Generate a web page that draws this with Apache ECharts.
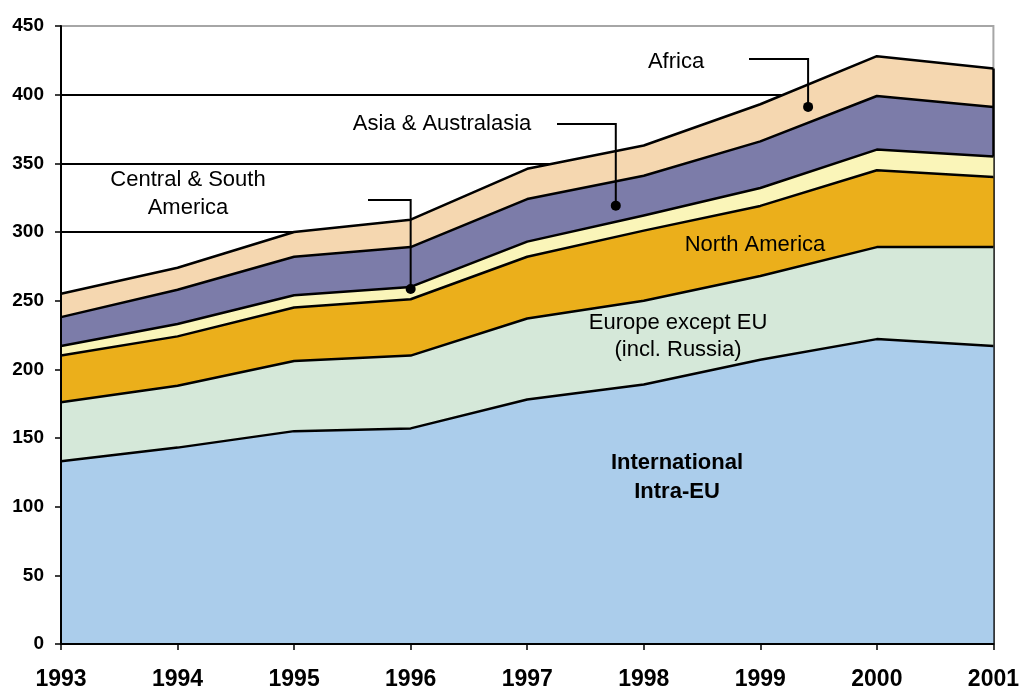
<!DOCTYPE html>
<html>
<head>
<meta charset="utf-8">
<title>Passenger traffic by destination region, 1993–2001</title>
<script src="https://cdn.jsdelivr.net/npm/echarts@6/dist/echarts.min.js"></script>
<style>
  html, body { margin: 0; padding: 0; background: #fff; }
  #chart { width: 1022px; height: 692px; }
</style>
</head>
<body>
<div id="chart"></div>
<script>
// Years on the horizontal axis
const years = ['1993', '1994', '1995', '1996', '1997', '1998', '1999', '2000', '2001'];

// Stacked layers, bottom to top
const intraEU      = [133, 143, 155, 157, 178, 189, 207, 222, 217];
const europeExEU   = [43, 45, 51, 53, 59, 61, 61, 67, 72];
const northAmerica = [34, 36, 39, 41, 45, 51, 51, 56, 51];
const centralSouth = [7, 9, 9, 9, 11, 11, 13, 15, 15];
const asiaAustral  = [21, 25, 28, 29, 31, 29, 34, 39, 36];
const africa       = [17, 16, 18, 20, 22, 22, 27, 29, 28];

// Value axis ticks
const yMin = 0, yMax = 450, yStep = 50;

const FONT = '"Liberation Sans", Arial, sans-serif';

const layers = [
  { name: 'International Intra-EU', data: intraEU, color: '#abcdeb' },
  { name: 'Europe except EU (incl. Russia)', data: europeExEU, color: '#d5e8d9' },
  { name: 'North America', data: northAmerica, color: '#ebaf1b' },
  { name: 'Central & South America', data: centralSouth, color: '#faf5b9' },
  { name: 'Asia & Australasia', data: asiaAustral, color: '#7c7ca9' },
  { name: 'Africa', data: africa, color: '#f5d7b0' }
];

// Stack total at the last year, used for the closing edge on the right
const lastIdx = years.length - 1;
const lastTotal = layers.reduce((s, l) => s + l.data[lastIdx], 0);

// Lower layers are painted later so each boundary line sits above the band over it
const series = layers.map((l, i) => {
  const s = {
    name: l.name,
    type: 'line',
    stack: 'total',
    yAxisIndex: 0,
    data: l.data,
    symbol: 'none',
    silent: true,
    lineStyle: { color: '#000', width: 2.5, join: 'round' },
    areaStyle: { color: l.color, opacity: 1 },
    z: 2 + (layers.length - i)
  };
  if (i === 0) {
    s.markLine = {
      silent: true,
      symbol: 'none',
      label: { show: false },
      lineStyle: { color: '#000', width: 2.5, type: 'solid' },
      data: [[{ coord: [years[lastIdx], 0] }, { coord: [years[lastIdx], lastTotal] }]]
    };
  }
  return s;
});

const chart = echarts.init(document.getElementById('chart'), null, { renderer: 'canvas' });

const valueScale = { type: 'value', min: yMin, max: yMax, interval: yStep };

chart.setOption({
  animation: false,
  backgroundColor: '#ffffff',
  grid: {
    left: 61, right: 27, top: 26, bottom: 48,
    show: true, borderColor: '#a6a6a6', borderWidth: 2, backgroundColor: 'transparent'
  },
  xAxis: {
    type: 'category',
    data: years,
    boundaryGap: false,
    axisLine: { lineStyle: { color: '#000', width: 2 } },
    axisTick: { show: true, length: 6, lineStyle: { color: '#000', width: 1.5 } },
    axisLabel: { color: '#000', fontFamily: FONT, fontWeight: 'bold', fontSize: 23, margin: 24 },
    splitLine: { show: false },
    z: 20
  },
  yAxis: [
    // gridlines, kept behind the bands
    Object.assign({}, valueScale, {
      position: 'left',
      axisLine: { show: false },
      axisTick: { show: false },
      axisLabel: { show: false },
      splitLine: { show: true, showMaxLine: false, lineStyle: { color: '#000', width: 2 } },
      z: 0
    }),
    // axis line, ticks and labels, drawn over the bands
    Object.assign({}, valueScale, {
      position: 'left',
      offset: 0,
      axisLine: { show: true, lineStyle: { color: '#000', width: 2 } },
      axisTick: { show: true, length: 6, lineStyle: { color: '#000', width: 1.5 } },
      axisLabel: { color: '#000', fontFamily: FONT, fontWeight: 'bold', fontSize: 19, margin: 17 },
      splitLine: { show: false },
      z: 20
    })
  ],
  series: series
});

// Region labels with leader lines ending in a dot on the band they name
const plainText = (text, x, y, bold) => ({
  type: 'text',
  silent: true,
  z: 100,
  style: {
    text: text, x: x, y: y,
    textAlign: 'center', textVerticalAlign: 'middle',
    font: (bold ? 'bold ' : '') + '22px ' + FONT,
    fill: '#000'
  }
});

// Leader anchors: [position along the years, value] on the band, plus the start of the horizontal run
const leaders = [
  { at: [3, 258.5], startX: 368, runY: 200 },
  { at: [4.76, 319.2], startX: 557, runY: 124 },
  { at: [6.41, 391.1], startX: 749, runY: 59 }
];

// Pixel position for a fractional year position on the category axis
function toPixel(pos, value) {
  const i0 = Math.floor(pos), i1 = Math.min(i0 + 1, years.length - 1);
  const a = chart.convertToPixel({ gridIndex: 0 }, [years[i0], value]);
  const b = chart.convertToPixel({ gridIndex: 0 }, [years[i1], value]);
  const t = pos - i0;
  return [a[0] + (b[0] - a[0]) * t, a[1]];
}

const graphics = [
  plainText('Africa', 676, 62),
  plainText('Asia & Australasia', 442, 124),
  plainText('Central & South', 188, 180),
  plainText('America', 188, 208),
  plainText('North America', 755, 245),
  plainText('Europe except EU', 678, 323),
  plainText('(incl. Russia)', 678, 350),
  plainText('International', 677, 463, true),
  plainText('Intra-EU', 677, 492, true)
];

leaders.forEach(l => {
  const p = toPixel(l.at[0], l.at[1]);
  graphics.push({
    type: 'polyline',
    silent: true,
    z: 100,
    shape: { points: [[l.startX, l.runY], [p[0], l.runY], [p[0], p[1]]] },
    style: { stroke: '#000', lineWidth: 2, fill: null }
  });
  graphics.push({
    type: 'circle',
    silent: true,
    z: 101,
    shape: { cx: p[0], cy: p[1], r: 5 },
    style: { fill: '#000' }
  });
});

chart.setOption({ graphic: graphics });
</script>
</body>
</html>
